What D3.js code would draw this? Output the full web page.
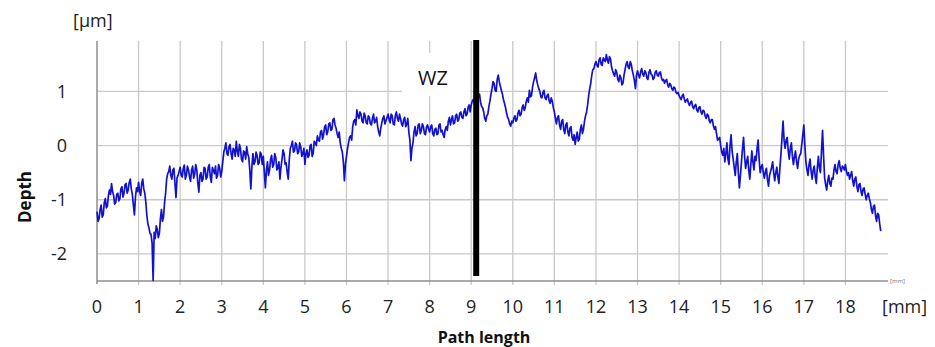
<!DOCTYPE html>
<html>
<head>
<meta charset="utf-8">
<script src="https://cdn.jsdelivr.net/npm/d3@7"></script>
<style>
  body { margin: 0; background: #fff; }
  svg text { font-family: "Open Sans", "Liberation Sans", sans-serif; }
</style>
</head>
<body>
<div id="chart"></div>
<script>
// depth profile
// depth[i] sits at i*0.05 mm, depthMid[i] half way to the next one
var sampleStep = 0.05;
var depth = [
  // 0 - 0.95
  -1.22, -1.35, -1.10, -1.28, -0.98, -1.12, -0.82, -0.70, -0.92, -1.05, -0.88, -0.98, -0.76, -0.88, -0.70, -0.82, -0.62, -0.90, -1.28, -0.78,
  // 1
  -0.68, -0.92, -0.62, -0.88, -1.30, -1.52, -1.64, -2.49, -1.72, -1.55, -1.62, -1.18, -1.32, -0.88, -0.52, -0.38, -0.62, -0.42, -0.96, -0.55,
  // 2
  -0.40, -0.58, -0.36, -0.55, -0.44, -0.66, -0.38, -0.52, -0.45, -0.86, -0.50, -0.62, -0.42, -0.58, -0.35, -0.68, -0.46, -0.38, -0.55, -0.42,
  // 3
  -0.48, -0.12, 0.05, -0.18, 0.02, -0.25, -0.08, 0.08, -0.20, -0.05, -0.30, -0.12, -0.02, -0.22, -0.80, -0.15, -0.30, -0.18, -0.32, -0.16,
  // 4
  -0.20, -0.78, -0.30, -0.45, -0.18, -0.35, -0.22, -0.40, -0.62, -0.25, -0.15, -0.32, -0.62, -0.05, 0.08, -0.10, 0.02, -0.12, -0.02, -0.15,
  // 5
  -0.35, -0.08, -0.18, 0.02, -0.14, 0.05, 0.18, 0.08, 0.28, 0.20, 0.38, 0.25, 0.42, 0.30, 0.50, 0.32, 0.15, 0.05, -0.12, -0.65,
  // 6
  -0.20, 0.05, 0.18, 0.35, 0.48, 0.66, 0.50, 0.58, 0.42, 0.55, 0.40, 0.52, 0.38, 0.58, 0.45, 0.35, 0.18, 0.42, 0.55, 0.46,
  // 7
  0.58, 0.42, 0.55, 0.38, 0.62, 0.45, 0.50, 0.36, 0.52, 0.40, 0.25, -0.28, 0.05, 0.35, 0.22, 0.40, 0.28, 0.35, 0.20, 0.38,
  // 8
  0.25, 0.38, 0.18, 0.32, 0.22, 0.40, 0.28, 0.15, 0.35, 0.45, 0.38, 0.55, 0.42, 0.58, 0.48, 0.62, 0.50, 0.68, 0.58, 0.75,
  // 9
  0.75, 0.85, 0.92, 0.80, 0.95, 0.72, 0.62, 0.45, 0.58, 0.82, 1.05, 1.15, 1.00, 1.30, 1.10, 0.95, 0.78, 0.60, 0.48, 0.36,
  // 10
  0.42, 0.55, 0.48, 0.65, 0.58, 0.75, 0.70, 0.88, 1.02, 0.92, 1.18, 1.34, 1.12, 1.00, 0.88, 1.02, 0.85, 0.95, 0.78, 0.82,
  // 11
  0.62, 0.40, 0.55, 0.30, 0.48, 0.22, 0.42, 0.18, 0.35, 0.10, 0.02, 0.25, 0.12, 0.38, 0.30, 0.55, 0.75, 1.05, 1.30, 1.42,
  // 12
  1.55, 1.45, 1.62, 1.48, 1.58, 1.68, 1.52, 1.60, 1.38, 1.28, 1.35, 1.18, 1.25, 1.15, 1.40, 1.55, 1.42, 1.50, 1.30, 1.05,
  // 13
  1.38, 1.25, 1.42, 1.28, 1.35, 1.22, 1.40, 1.30, 1.25, 1.38, 1.28, 1.36, 1.20, 1.15, 1.22, 1.08, 1.12, 1.02, 1.06, 0.96,
  // 14
  0.92, 0.85, 0.95, 0.80, 0.86, 0.74, 0.82, 0.68, 0.76, 0.62, 0.72, 0.58, 0.64, 0.50, 0.56, 0.42, 0.48, 0.30, 0.22, 0.12,
  // 15
  0.00, -0.18, -0.30, 0.05, -0.35, 0.20, -0.25, -0.55, -0.15, -0.78, -0.30, 0.15, -0.42, -0.20, -0.62, -0.10, -0.45, -0.28, 0.10, -0.50,
  // 16
  -0.35, -0.60, -0.42, -0.75, -0.48, -0.30, -0.65, -0.40, -0.70, -0.15, 0.45, -0.05, 0.15, -0.25, 0.05, -0.35, -0.10, -0.42, -0.18, 0.02,
  // 17
  0.38, -0.30, -0.55, -0.25, -0.62, -0.38, -0.70, -0.20, -0.50, 0.28, -0.60, -0.82, -0.55, -0.75, -0.62, -0.35, -0.52, -0.28, -0.48, -0.40,
  // 18 - 18.85
  -0.35, -0.55, -0.62, -0.48, -0.75, -0.58, -0.85, -0.70, -0.92, -0.78, -1.00, -0.88, -1.05, -1.25, -1.10, -1.40, -1.28, -1.58
];
var depthMid = [
  -1.40, -1.18, -1.32, -1.05, -1.15, -0.92, -0.90, -0.85, -1.08, -0.90, -1.02, -0.80, -0.95, -0.72, -0.88, -0.68, -0.80, -1.10, -0.95, -0.85,
  -0.85, -0.70, -0.80, -1.05, -1.45, -1.62, -1.80, -1.60, -1.48, -1.70, -1.35, -1.40, -1.05, -0.62, -0.48, -0.55, -0.45, -0.70, -0.60, -0.48,
  -0.55, -0.42, -0.62, -0.38, -0.58, -0.45, -0.60, -0.35, -0.70, -0.55, -0.66, -0.40, -0.62, -0.40, -0.58, -0.40, -0.52, -0.60, -0.35, -0.58,
  -0.30, -0.05, -0.15, -0.02, -0.15, -0.05, -0.20, -0.10, 0.02, -0.25, -0.10, -0.25, -0.15, -0.45, -0.40, -0.35, -0.12, -0.35, -0.12, -0.35,
  -0.50, -0.45, -0.55, -0.25, -0.40, -0.15, -0.45, -0.30, -0.40, -0.08, -0.35, -0.50, -0.25, 0.00, -0.12, 0.05, -0.15, 0.05, -0.20, -0.05,
  -0.15, -0.22, 0.00, -0.20, 0.08, 0.00, 0.10, 0.25, 0.12, 0.35, 0.20, 0.40, 0.28, 0.48, 0.38, 0.22, 0.25, -0.05, -0.30, -0.35,
  -0.05, 0.15, 0.10, 0.45, 0.38, 0.55, 0.62, 0.45, 0.60, 0.42, 0.55, 0.40, 0.50, 0.42, 0.52, 0.25, 0.32, 0.50, 0.40, 0.52,
  0.48, 0.58, 0.40, 0.55, 0.50, 0.58, 0.40, 0.48, 0.35, 0.50, 0.10, -0.05, 0.25, 0.18, 0.38, 0.22, 0.40, 0.22, 0.35, 0.30,
  0.35, 0.22, 0.30, 0.20, 0.38, 0.25, 0.20, 0.30, 0.28, 0.52, 0.48, 0.40, 0.55, 0.45, 0.60, 0.52, 0.62, 0.55, 0.70, 0.62,
  0.82, 0.78, 0.85, 0.92, 0.80, 0.70, 0.50, 0.55, 0.72, 0.95, 1.18, 1.02, 1.22, 1.18, 1.02, 0.85, 0.70, 0.52, 0.40, 0.45,
  0.50, 0.45, 0.60, 0.55, 0.70, 0.65, 0.82, 0.80, 0.90, 1.08, 1.25, 1.20, 1.05, 0.90, 0.98, 0.88, 0.92, 0.82, 0.88, 0.70,
  0.50, 0.52, 0.38, 0.45, 0.30, 0.38, 0.25, 0.32, 0.15, 0.20, 0.15, 0.08, 0.30, 0.22, 0.45, 0.62, 0.92, 1.15, 1.40, 1.50,
  1.48, 1.58, 1.50, 1.62, 1.55, 1.58, 1.64, 1.45, 1.32, 1.40, 1.22, 1.30, 1.12, 1.30, 1.50, 1.45, 1.55, 1.38, 1.20, 1.30,
  1.30, 1.36, 1.32, 1.38, 1.25, 1.35, 1.32, 1.22, 1.35, 1.30, 1.35, 1.25, 1.22, 1.20, 1.12, 1.15, 1.05, 1.08, 0.98, 0.98,
  0.88, 0.92, 0.86, 0.84, 0.78, 0.80, 0.72, 0.74, 0.66, 0.70, 0.62, 0.65, 0.55, 0.58, 0.46, 0.48, 0.36, 0.35, 0.10, 0.15,
  -0.12, -0.05, -0.15, -0.25, 0.00, -0.10, -0.40, -0.30, -0.50, -0.55, -0.05, -0.20, -0.30, -0.45, -0.35, -0.30, -0.20, -0.05, -0.25, -0.40,
  -0.50, -0.48, -0.62, -0.55, -0.40, -0.50, -0.50, -0.58, -0.40, 0.15, 0.10, 0.10, -0.10, -0.05, -0.20, -0.20, -0.30, -0.25, -0.15, 0.20,
  0.00, -0.45, -0.35, -0.48, -0.45, -0.58, -0.40, -0.42, -0.10, -0.20, -0.72, -0.65, -0.70, -0.60, -0.45, -0.48, -0.35, -0.42, -0.38, -0.45,
  -0.48, -0.50, -0.55, -0.65, -0.62, -0.75, -0.72, -0.85, -0.80, -0.90, -0.92, -0.98, -1.18, -1.12, -1.30, -1.25, -1.45
];

var xTicks = d3.range(0, 19);          // 0 .. 18 mm
var yTicks = [-2, -1, 0, 1];           // µm
var weldZoneAt = 9.12;                 // mm, the black WZ marker
var weldZoneLabel = "WZ";

var width = 935, height = 347;

var x = d3.scaleLinear().domain([0, 19]).range([97, 887]);
var y = d3.scaleLinear().domain([-2.5, 1.93]).range([281, 41]);

// interleave the two sample sets into one profile
var profile = [];
depth.forEach(function(v, i) {
  profile.push({ mm: i * sampleStep, v: v });
  if (i < depthMid.length) profile.push({ mm: (i + 0.5) * sampleStep, v: depthMid[i] });
});

var svg = d3.select("#chart").append("svg")
    .attr("width", width).attr("height", height);

// horizontal grid
svg.append("g").selectAll("line").data(yTicks).enter().append("line")
    .attr("x1", x(0)).attr("x2", 888)
    .attr("y1", function(d) { return y(d); }).attr("y2", function(d) { return y(d); })
    .attr("stroke", "#c9c9c9").attr("stroke-width", 1.3);

// vertical grid (runs a little below the axis like tick marks)
svg.append("g").selectAll("line").data(xTicks.slice(1)).enter().append("line")
    .attr("x1", function(d) { return x(d); }).attr("x2", function(d) { return x(d); })
    .attr("y1", y.range()[1]).attr("y2", y(-2.5) + 4)
    .attr("stroke", "#c9c9c9").attr("stroke-width", 1.3);

// white box behind the WZ label
svg.append("rect")
    .attr("x", 402).attr("y", 53).attr("width", 68).attr("height", 43)
    .attr("fill", "#fff");

// axes lines
svg.append("line")
    .attr("x1", x(0)).attr("x2", x(0)).attr("y1", y.range()[1]).attr("y2", y(-2.5) + 3)
    .attr("stroke", "#8f8f8f").attr("stroke-width", 1.5);
svg.append("line")
    .attr("x1", x(0)).attr("x2", 888).attr("y1", y(-2.5)).attr("y2", y(-2.5))
    .attr("stroke", "#8f8f8f").attr("stroke-width", 1.5);

// profile
var line = d3.line()
    .x(function(d) { return x(d.mm); })
    .y(function(d) { return y(d.v); });

svg.append("path")
    .datum(profile)
    .attr("d", line)
    .attr("fill", "none")
    .attr("stroke", "#1212cc")
    .attr("stroke-width", 1.7)
    .attr("stroke-linejoin", "round");

// WZ marker
svg.append("line")
    .attr("x1", x(weldZoneAt)).attr("x2", x(weldZoneAt))
    .attr("y1", 40).attr("y2", 276)
    .attr("stroke", "#000").attr("stroke-width", 6);

svg.append("text")
    .attr("x", 433).attr("y", 85)
    .attr("text-anchor", "middle")
    .attr("font-size", 20).attr("fill", "#111")
    .text(weldZoneLabel);

// tick labels
svg.append("g").selectAll("text").data(xTicks).enter().append("text")
    .attr("x", function(d) { return x(d); }).attr("y", 313)
    .attr("text-anchor", "middle").attr("font-size", 18).attr("fill", "#222")
    .text(function(d) { return d; });

svg.append("g").selectAll("text").data(yTicks).enter().append("text")
    .attr("x", 67).attr("y", function(d) { return y(d) + 6.5; })
    .attr("text-anchor", "end").attr("font-size", 18).attr("fill", "#222")
    .text(function(d) { return d; });

// units and titles
svg.append("text").attr("x", 73).attr("y", 27)
    .attr("font-size", 18).attr("fill", "#222").text("[µm]");
svg.append("text").attr("x", 882).attr("y", 313)
    .attr("font-size", 18).attr("fill", "#222").text("[mm]");
svg.append("text").attr("x", 890).attr("y", 283)
    .attr("font-size", 6).attr("fill", "#777").text("[mm]");

svg.append("text")
    .attr("transform", "translate(31,197) rotate(-90)")
    .attr("text-anchor", "middle").attr("font-size", 17).attr("font-weight", "bold").attr("fill", "#111")
    .text("Depth");
svg.append("text")
    .attr("x", 484).attr("y", 343)
    .attr("text-anchor", "middle").attr("font-size", 16).attr("font-weight", "bold").attr("fill", "#111")
    .text("Path length");
</script>
</body>
</html>
